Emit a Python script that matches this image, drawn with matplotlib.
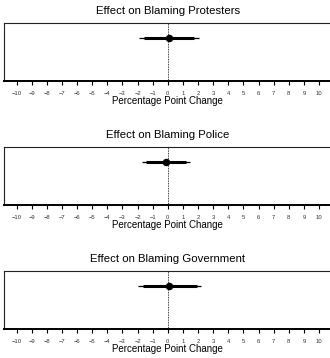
import matplotlib
matplotlib.use("Agg")
import matplotlib.pyplot as plt

plt.rcParams['font.family'] = ['Liberation Sans', 'DejaVu Sans']

titles = ["Effect on Blaming Protesters", "Effect on Blaming Police", "Effect on Blaming Government"]
estimates = [0.05, -0.10, 0.10]
ci90_low = [-1.59, -1.47, -1.64]
ci90_high = [1.76, 1.23, 1.90]
ci95_low = [-1.91, -1.74, -1.97]
ci95_high = [2.09, 1.49, 2.22]
ticks = list(range(-10, 11))
xlabel = "Percentage Point Change"

fig = plt.figure(figsize=(3.30, 3.58), dpi=100)
bottoms = [0.7737, 0.4274, 0.0810]
height = 0.163
left = 0.0136
width = 0.990

for i, title in enumerate(titles):
    ax = fig.add_axes([left, bottoms[i], width, height])
    ax.set_xlim(-10.8, 10.8)
    ax.set_ylim(0, 1)
    y = 0.73
    ax.axvline(0, color='black', linestyle=(0, (1, 1)), linewidth=0.6, zorder=1)
    ax.plot([ci95_low[i], ci95_high[i]], [y, y], color='black', linewidth=0.9,
            solid_capstyle='butt', zorder=2)
    ax.plot([ci90_low[i], ci90_high[i]], [y, y], color='black', linewidth=2.2,
            solid_capstyle='butt', zorder=3)
    ax.plot([estimates[i]], [y], 'o', color='black', markersize=4.4, zorder=4)
    ax.set_yticks([])
    ax.set_xticks(ticks)
    ax.set_xticklabels([str(t).replace('-', '\u2212') for t in ticks], fontsize=4.2,
                       color='#333333')
    ax.tick_params(axis='x', length=3, width=0.8, pad=4, color='black')
    for side, sp in ax.spines.items():
        sp.set_linewidth(0.8)
        sp.set_color('#222222')
    ax.spines['bottom'].set_linewidth(1.4)
    ax.spines['bottom'].set_color('black')
    ax.set_title(title, fontsize=8.2, pad=6)
    ax.set_xlabel(xlabel, fontsize=7.0, labelpad=0.3)

fig.savefig("out.png", dpi=100)
